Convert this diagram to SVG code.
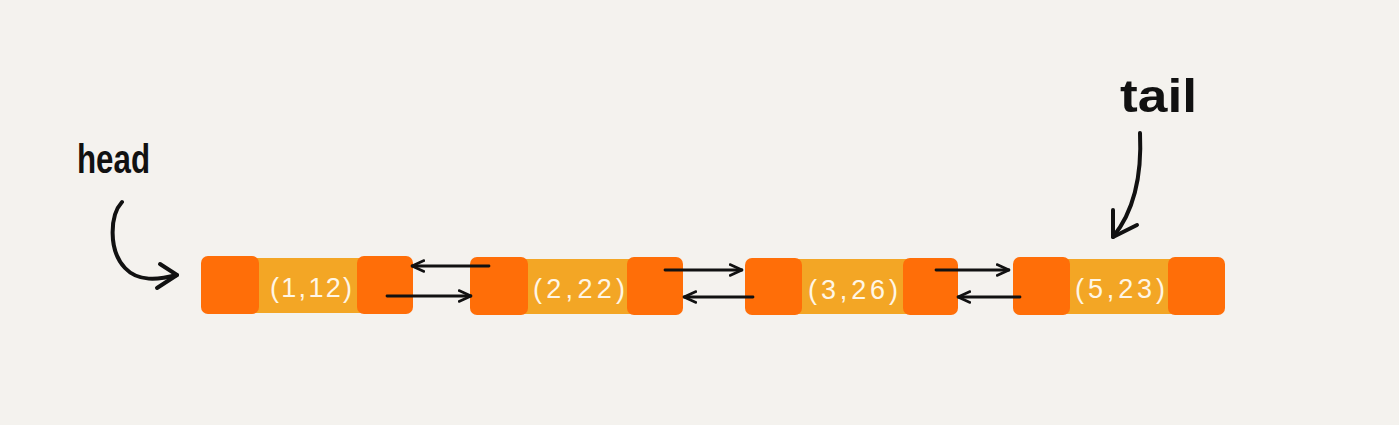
<svg xmlns="http://www.w3.org/2000/svg" width="1399" height="425" viewBox="0 0 1399 425">
  <defs>
    <style>
      .ptr { fill: #FF6E08; }
      .val { fill: #F3A625; }
      .lbl { font-family: "Liberation Sans", "DejaVu Sans", sans-serif; font-size: 27px; fill: #FFF6E6; }
      .hand { font-family: "Liberation Sans", "DejaVu Sans", sans-serif; font-weight: bold; fill: #111; }
      .conn { stroke: #111; stroke-width: 2.8; fill: none; stroke-linecap: round; }
      .ink { stroke: #111; stroke-width: 4; fill: none; stroke-linecap: round; stroke-linejoin: round; }
    </style>
    <marker id="ah" viewBox="0 0 14 14" refX="13" refY="7" markerWidth="14" markerHeight="14" markerUnits="userSpaceOnUse" orient="auto">
      <path d="M1,1.5 L13,7 L1,12.5" fill="none" stroke="#111" stroke-width="2.6" stroke-linecap="round" stroke-linejoin="round"/>
    </marker>
  </defs>
  <rect width="1399" height="425" fill="#F4F2EE"/>

  <g id="head-label">
    <text class="hand" x="77" y="173" font-size="40" textLength="73" lengthAdjust="spacingAndGlyphs">head</text>
    <path class="ink" d="M122,202 C110,215 108,250 125,268 C138,282 158,280 177,275"/>
    <path class="ink" d="M160,264 L177,275 L157,288"/>
  </g>

  <g id="tail-label">
    <text class="hand" x="1120" y="112" font-size="46" textLength="77" lengthAdjust="spacingAndGlyphs">tail</text>
    <path class="ink" d="M1140,133 C1142,175 1135,210 1113,237"/>
    <path class="ink" d="M1113,210 L1113,237 L1137,225"/>
  </g>

  <g id="node1">
    <rect class="val" x="255" y="258" width="106" height="55"/>
    <rect class="ptr" x="201" y="256" width="58" height="58" rx="7"/>
    <rect class="ptr" x="357" y="256" width="56" height="58" rx="7"/>
    <text class="lbl" x="270" y="297" textLength="82" lengthAdjust="spacing">(1,12)</text>
  </g>

  <g id="node2">
    <rect class="val" x="524" y="259" width="107" height="55"/>
    <rect class="ptr" x="470" y="257" width="58" height="58" rx="7"/>
    <rect class="ptr" x="627" y="257" width="56" height="58" rx="7"/>
    <text class="lbl" x="533" y="298" textLength="92" lengthAdjust="spacing">(2,22)</text>
  </g>

  <g id="node3">
    <rect class="val" x="798" y="259" width="109" height="55"/>
    <rect class="ptr" x="745" y="258" width="57" height="57" rx="7"/>
    <rect class="ptr" x="903" y="258" width="55" height="57" rx="7"/>
    <text class="lbl" x="808" y="299" textLength="90" lengthAdjust="spacing">(3,26)</text>
  </g>

  <g id="node4">
    <rect class="val" x="1066" y="259" width="106" height="55"/>
    <rect class="ptr" x="1013" y="257" width="57" height="58" rx="7"/>
    <rect class="ptr" x="1168" y="257" width="57" height="58" rx="7"/>
    <text class="lbl" x="1075" y="298" textLength="90" lengthAdjust="spacing">(5,23)</text>
  </g>

  <g id="connectors">
    <line class="conn" x1="489" y1="266" x2="412" y2="266" marker-end="url(#ah)"/>
    <line class="conn" x1="387" y1="296" x2="471" y2="296" marker-end="url(#ah)"/>
    <line class="conn" x1="665" y1="270" x2="742" y2="270" marker-end="url(#ah)"/>
    <line class="conn" x1="753" y1="297" x2="684" y2="297" marker-end="url(#ah)"/>
    <line class="conn" x1="936" y1="270" x2="1009" y2="270" marker-end="url(#ah)"/>
    <line class="conn" x1="1020" y1="297" x2="958" y2="297" marker-end="url(#ah)"/>
  </g>
</svg>
